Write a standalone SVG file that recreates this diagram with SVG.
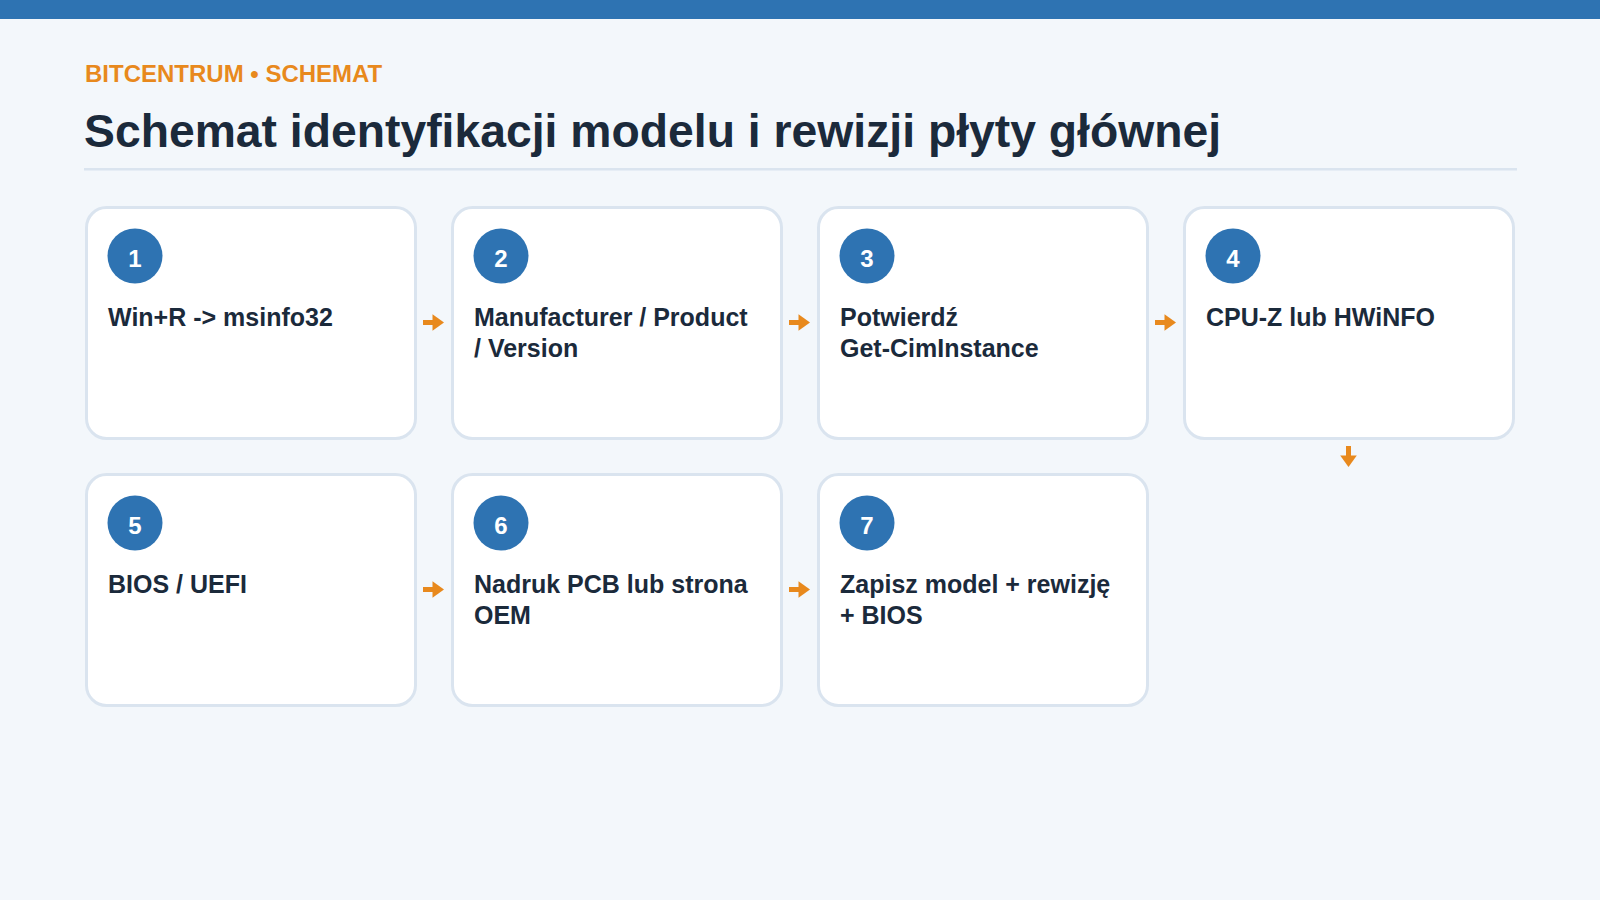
<svg xmlns="http://www.w3.org/2000/svg" width="1600" height="900" viewBox="0 0 1600 900">
  <style>
    .card { fill: #ffffff; stroke: #dae4ef; stroke-width: 3; }
    .badge { fill: #2e73b2; }
    .num { font-family: "Liberation Sans", Arial, sans-serif; font-weight: 700; font-size: 24px; fill: #ffffff; text-anchor: middle; }
    .lbl { font-family: "Liberation Sans", Arial, sans-serif; font-weight: 700; font-size: 25px; fill: #1b2a3b; }
    .shaft { stroke: #e8891d; stroke-width: 5; fill: none; }
    .head { fill: #e8891d; }
  </style>
  <defs>
    <g id="arrowR">
      <line class="shaft" x1="-10.5" y1="0" x2="0" y2="0"/>
      <polygon class="head" points="-1,-8.3 10.5,0 -1,8.3"/>
    </g>
    <g id="arrowD">
      <line class="shaft" x1="0" y1="-10.5" x2="0" y2="0"/>
      <polygon class="head" points="-8.3,-1 8.3,-1 0,10.5"/>
    </g>
  </defs>
  <rect x="0" y="0" width="1600" height="900" fill="#f3f7fb"/>
  <rect x="0" y="0" width="1600" height="19" fill="#2e73b2"/>
  <g id="header">
    <text x="85" y="82" font-family="Liberation Sans, Arial, sans-serif" font-weight="700" font-size="24" fill="#e8891d">BITCENTRUM • SCHEMAT</text>
    <text x="84" y="147" font-family="Liberation Sans, Arial, sans-serif" font-weight="700" font-size="46.3" fill="#1b2a3b">Schemat identyfikacji modelu i rewizji płyty głównej</text>
    <rect x="84" y="168" width="1433" height="2.5" fill="#dae4ef"/>
  </g>

  <g id="connectors">
    <use href="#arrowR" x="433.5" y="322.5"/>
    <use href="#arrowR" x="799.5" y="322.5"/>
    <use href="#arrowR" x="1165.5" y="322.5"/>
    <use href="#arrowD" x="1348.5" y="456.5"/>
    <use href="#arrowR" x="433.5" y="589.5"/>
    <use href="#arrowR" x="799.5" y="589.5"/>
  </g>

  <g id="node1">
    <rect class="card" x="86.5" y="207.5" width="329" height="231" rx="20"/>
    <circle class="badge" cx="135" cy="256" r="27.5"/>
    <text class="num" x="135" y="267">1</text>
    <text class="lbl" x="108" y="326">Win+R -&gt; msinfo32</text>
  </g>
  <g id="node2">
    <rect class="card" x="452.5" y="207.5" width="329" height="231" rx="20"/>
    <circle class="badge" cx="501" cy="256" r="27.5"/>
    <text class="num" x="501" y="267">2</text>
    <text class="lbl" x="474" y="326">Manufacturer / Product</text>
    <text class="lbl" x="474" y="357">/ Version</text>
  </g>
  <g id="node3">
    <rect class="card" x="818.5" y="207.5" width="329" height="231" rx="20"/>
    <circle class="badge" cx="867" cy="256" r="27.5"/>
    <text class="num" x="867" y="267">3</text>
    <text class="lbl" x="840" y="326">Potwierdź</text>
    <text class="lbl" x="840" y="357">Get-CimInstance</text>
  </g>
  <g id="node4">
    <rect class="card" x="1184.5" y="207.5" width="329" height="231" rx="20"/>
    <circle class="badge" cx="1233" cy="256" r="27.5"/>
    <text class="num" x="1233" y="267">4</text>
    <text class="lbl" x="1206" y="326">CPU-Z lub HWiNFO</text>
  </g>
  <g id="node5">
    <rect class="card" x="86.5" y="474.5" width="329" height="231" rx="20"/>
    <circle class="badge" cx="135" cy="523" r="27.5"/>
    <text class="num" x="135" y="534">5</text>
    <text class="lbl" x="108" y="593">BIOS / UEFI</text>
  </g>
  <g id="node6">
    <rect class="card" x="452.5" y="474.5" width="329" height="231" rx="20"/>
    <circle class="badge" cx="501" cy="523" r="27.5"/>
    <text class="num" x="501" y="534">6</text>
    <text class="lbl" x="474" y="593">Nadruk PCB lub strona</text>
    <text class="lbl" x="474" y="624">OEM</text>
  </g>
  <g id="node7">
    <rect class="card" x="818.5" y="474.5" width="329" height="231" rx="20"/>
    <circle class="badge" cx="867" cy="523" r="27.5"/>
    <text class="num" x="867" y="534">7</text>
    <text class="lbl" x="840" y="593">Zapisz model + rewizję</text>
    <text class="lbl" x="840" y="624">+ BIOS</text>
  </g>
</svg>
